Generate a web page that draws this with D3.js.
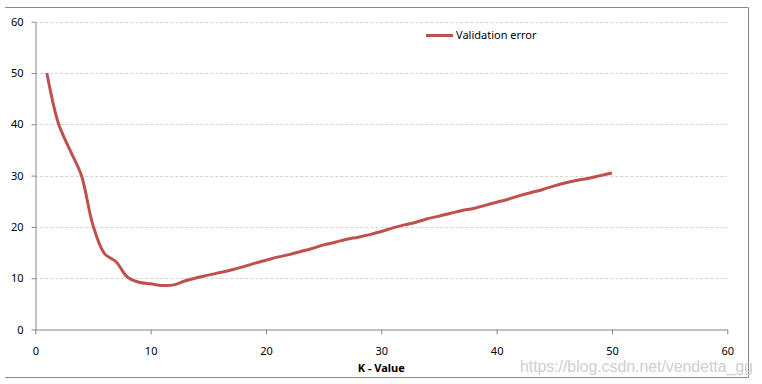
<!DOCTYPE html>
<html><head><meta charset="utf-8">
<script src="https://cdn.jsdelivr.net/npm/d3@7"></script>
<style>
html,body{margin:0;padding:0;background:#fff;}
svg{display:block;font-family:"Noto Sans","Open Sans",sans-serif;}
</style></head>
<body><svg id="c" width="762" height="384"></svg>
<script>
const kValues = [1,2,3,4,5,6,7,8,9,10,11,12,13,14,15,16,17,18,19,20,21,22,23,24,25,26,27,28,29,30,31,32,33,34,35,36,37,38,39,40,41,42,43,44,45,46,47,48,49,50];
const validationError = [50,40.2,35,30,20.3,14.8,13.2,10.2,9.2,8.9,8.6,8.7,9.5,10.1,10.6,11.1,11.6,12.2,12.9,13.5,14.1,14.6,15.2,15.8,16.5,17,17.6,18,18.5,19.1,19.8,20.4,20.9,21.6,22.1,22.65,23.2,23.6,24.2,24.8,25.4,26.1,26.7,27.3,28,28.6,29.1,29.5,30,30.5];
const xTicks = [0,10,20,30,40,50,60];
const yTicks = [0,10,20,30,40,50,60];
const seriesName = "Validation error";
const xTitle = "K - Value";
const watermark = "https://blog.csdn.net/vendetta_gg";

const svg = d3.select("#c");
const pL = 35.3, pR = 727.3, pT = 21.7, pB = 329.5;
const x = d3.scaleLinear().domain([0,60]).range([pL,pR]);
const y = d3.scaleLinear().domain([0,60]).range([pB,pT]);

// outer border (top, right, bottom)
svg.append("path").attr("d","M5,7.5H748.5V377.5H5").attr("fill","none").attr("stroke","#8a8a8a").attr("stroke-width",1);

// gridlines
svg.append("g").selectAll("line").data(yTicks.filter(d=>d>0)).join("line")
  .attr("x1",pL).attr("x2",pR)
  .attr("y1",d=>Math.round(y(d))+0.5).attr("y2",d=>Math.round(y(d))+0.5)
  .attr("stroke","#d4d4d4").attr("stroke-dasharray","3,2").attr("stroke-width",1);

// y axis
const gy = svg.append("g").attr("transform",`translate(${Math.round(pL)+0.5},0)`)
  .call(d3.axisLeft(y).tickValues(yTicks).tickSize(4).tickPadding(8).tickSizeOuter(0));
// x axis
const gx = svg.append("g").attr("transform",`translate(0,${Math.round(pB)-0.5})`)
  .call(d3.axisBottom(x).tickValues(xTicks).tickSize(5).tickPadding(12.5).tickSizeOuter(0));
[gx,gy].forEach(g=>{
  g.select(".domain").attr("stroke","#868686");
  g.selectAll(".tick line").attr("stroke","#868686");
  g.selectAll("text").attr("font-size","11px").attr("fill","#000")
   .attr("font-family","'Noto Sans','Open Sans',sans-serif");
});

// line
const line = d3.line().x((d,i)=>x(kValues[i])).y(d=>y(d)).curve(d3.curveCatmullRom.alpha(0.5));
svg.append("path").datum(validationError).attr("d",line)
  .attr("fill","none").attr("stroke","#C0504D").attr("stroke-width",3).attr("stroke-linejoin","round");

// legend
svg.append("line").attr("x1",426).attr("x2",453).attr("y1",35.5).attr("y2",35.5)
  .attr("stroke","#C0504D").attr("stroke-width",3);
svg.append("text").attr("x",456).attr("y",35.5).attr("dy","0.35em")
  .attr("font-size","11px").attr("fill","#000").text(seriesName);

// x title
svg.append("text").attr("x",(pL+pR)/2).attr("y",368).attr("dy","0.35em")
  .attr("text-anchor","middle").attr("font-size","11px").attr("font-weight","bold").attr("fill","#000").text(xTitle);

// watermark
svg.append("text").attr("x",520).attr("y",366).attr("dy","0.35em")
  .attr("font-family","'Liberation Sans',Arial,sans-serif").attr("font-size","16px")
  .attr("fill","#cfcfcf").attr("textLength",233).text(watermark);
</script></body></html>
